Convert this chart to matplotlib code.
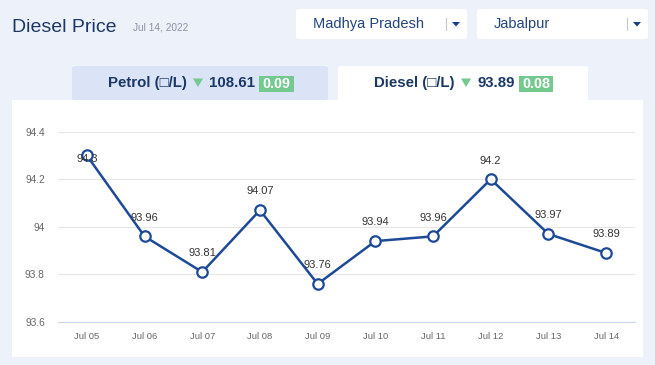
import matplotlib
matplotlib.use("Agg")
import matplotlib.pyplot as plt
from matplotlib.patches import Rectangle, FancyBboxPatch, Polygon

dates = ["Jul 05", "Jul 06", "Jul 07", "Jul 08", "Jul 09", "Jul 10", "Jul 11", "Jul 12", "Jul 13", "Jul 14"]
prices = [94.3, 93.96, 93.81, 94.07, 93.76, 93.94, 93.96, 94.2, 93.97, 93.89]
label_texts = ["94.3", "93.96", "93.81", "94.07", "93.76", "93.94", "93.96", "94.2", "93.97", "93.89"]
yticks = [93.6, 93.8, 94.0, 94.2, 94.4]
ytick_labels = ["93.6", "93.8", "94", "94.2", "94.4"]

W, H = 655, 365
FONT = ["Liberation Sans", "DejaVu Sans"]
plt.rcParams["font.family"] = FONT

fig = plt.figure(figsize=(W / 100, H / 100), dpi=100)
fig.patch.set_facecolor("#edf1fa")

def fx(x):
    return x / W

def fy(y):
    return 1 - y / H

def rect(x0, y0, x1, y1, color, z=-5, rounded=False):
    if rounded:
        p = FancyBboxPatch((fx(x0), fy(y1)), (x1 - x0) / W, (y1 - y0) / H,
                           boxstyle="round,pad=0,rounding_size=0.006",
                           transform=fig.transFigure, facecolor=color,
                           edgecolor="none", zorder=z)
    else:
        p = Rectangle((fx(x0), fy(y1)), (x1 - x0) / W, (y1 - y0) / H,
                      transform=fig.transFigure, facecolor=color,
                      edgecolor="none", zorder=z)
    fig.patches.append(p)

def tri(x0, x1, y0, y1, color):
    p = Polygon([[fx(x0), fy(y0)], [fx(x1), fy(y0)], [fx((x0 + x1) / 2), fy(y1)]],
                closed=True, transform=fig.transFigure, facecolor=color, edgecolor="none")
    fig.patches.append(p)

def text(x, y, s, **kw):
    fig.text(fx(x), fy(y), s, **kw)

NAVY = "#1b3766"
DDNAVY = "#23447c"
GREEN = "#74c98e"

# Header
text(12, 27, "Diesel Price", fontsize=14, color=NAVY, va="center", ha="left")
text(133, 28, "Jul 14, 2022", fontsize=7.3, color="#8a93a6", va="center", ha="left")

# Dropdowns
for (x0, x1, label) in [(296, 467, "Madhya Pradesh"), (477, 648, "Jabalpur")]:
    rect(x0, 9, x1, 39, "white", rounded=True)
    text(x0 + 17, 24, label, fontsize=10.5, color=DDNAVY, va="center", ha="left")
    fig.lines.append(plt.Line2D([fx(x1 - 21), fx(x1 - 21)], [fy(18), fy(30)],
                                transform=fig.transFigure, color="#c3c8d2", lw=0.8))
    tri(x1 - 15, x1 - 7, 22, 26.5, "#1b3f86")

# Tabs
rect(72, 66, 328, 100, "#dbe4f7", rounded=True)
rect(338, 66, 588, 104, "white", rounded=True)

# White chart panel
rect(12, 100, 643, 357, "white")

def tab_text(xs, name, value, change):
    x_name, x_tri, x_val, x_badge0, x_badge1 = xs
    text(x_name, 83, name, fontsize=10.8, color=NAVY, fontweight="bold", va="center", ha="left")
    tri(x_tri, x_tri + 10, 78.5, 87, GREEN)
    text(x_val, 83, value, fontsize=10.8, color=NAVY, fontweight="bold", va="center", ha="left")
    rect(x_badge0, 76, x_badge1, 92, GREEN, z=1)
    text((x_badge0 + x_badge1) / 2, 84, change, fontsize=10.3, color="white", fontweight="bold",
         va="center", ha="center", zorder=2)

tab_text((108, 193, 209, 259, 294), "Petrol (\u25a1/L)", "108.61", "0.09")
tab_text((374, 461, 477, 519, 553), "Diesel (\u25a1/L)", "93.89", "0.08")

# Chart axes
ax_l, ax_r, ax_t, ax_b = 58, 635, 131.7, 322
ax = fig.add_axes([fx(ax_l), fy(ax_b), (ax_r - ax_l) / W, (ax_b - ax_t) / H])
ax.set_facecolor("none")
ax.set_xlim(-0.5, len(dates) - 0.5)
ax.set_ylim(93.6, 94.4)
ax.set_yticks(yticks)
ax.set_yticklabels(ytick_labels)
ax.set_xticks(range(len(dates)))
ax.set_xticklabels(dates)
ax.grid(axis="y", color="#e6e6e6", lw=0.8)
ax.set_axisbelow(True)
for s in ["top", "right", "left"]:
    ax.spines[s].set_visible(False)
ax.spines["bottom"].set_color("#ccd6eb")
ax.spines["bottom"].set_linewidth(0.8)
ax.tick_params(axis="y", length=0, labelsize=7.3, labelcolor="#666666", pad=9.5)
ax.tick_params(axis="x", length=0, labelsize=6.8, labelcolor="#666666", pad=7)

xs = list(range(len(dates)))
ax.plot(xs, prices, color="#1d4a96", lw=1.8, marker="o", markersize=7.5,
        markerfacecolor="white", markeredgecolor="#1d4a96", markeredgewidth=1.6,
        clip_on=False, zorder=3)

for i, (v, t) in enumerate(zip(prices, label_texts)):
    off = -2.5 if i == 0 else 13.5
    ax.annotate(t, (i, v), xytext=(0, off), textcoords="offset points",
                ha="center", va="center", fontsize=8, color="#333333", zorder=4)

fig.savefig("out.png", dpi=100, facecolor=fig.get_facecolor())
